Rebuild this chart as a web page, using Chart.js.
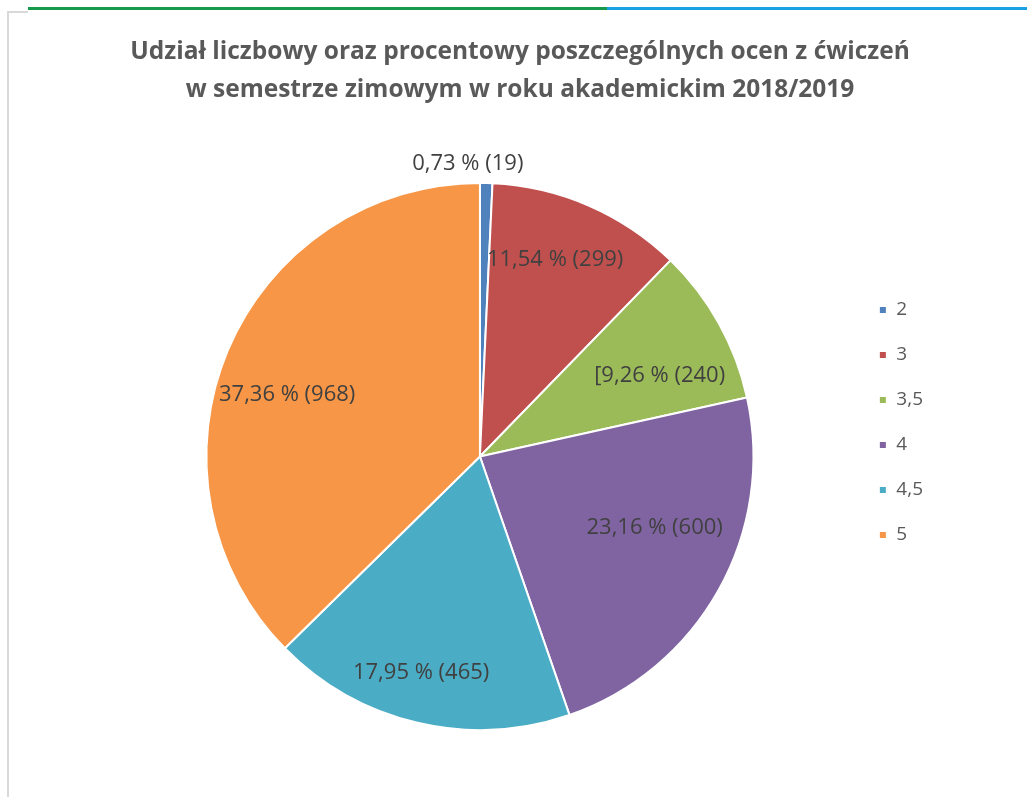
<!DOCTYPE html>
<html>
<head>
<meta charset="utf-8">
<script src="https://cdn.jsdelivr.net/npm/chart.js@4/dist/chart.umd.min.js"></script>
<style>
  body { margin: 0; background: #fff; overflow: hidden; width: 1027px; height: 797px; position: relative; }
  #edge-left { position: absolute; left: 7px; top: 11px; width: 2px; height: 790px; background: #d9d9d9; }
  #edge-top { position: absolute; left: 7px; top: 11px; width: 21px; height: 2px; background: #d9d9d9; }
  #tab-green { position: absolute; left: 28px; top: 7px; width: 579px; height: 3px; background: #17994b; }
  #tab-blue { position: absolute; left: 607px; top: 7px; width: 420px; height: 3px; background: #1aa1e1; }
  #wrap { position: absolute; left: 9px; top: 13px; width: 1018px; height: 784px; }
</style>
</head>
<body>
<div id="edge-left"></div>
<div id="edge-top"></div>
<div id="tab-green"></div>
<div id="tab-blue"></div>
<div id="wrap"><canvas id="pie"></canvas></div>
<script>
const grades = ['2', '3', '3,5', '4', '4,5', '5'];
const counts = [19, 299, 240, 600, 465, 968];
const labelPrefix = ['', '', '[', '', '', ''];
const sliceColors = ['#4f81bd', '#c0504d', '#9bbb59', '#8064a2', '#4bacc6', '#f79646'];

const FONT = '"Open Sans", sans-serif';

// where each value label sits: fraction of radius, and angle shift in degrees
const labelRadius = [1.07, 0.77, 0.72, 0.69, 0.82, 0.74];
const labelShift = [-3.7, -2.5, 5, -7, 2, -5];

const total = counts.reduce((a, b) => a + b, 0);

function pctText(v) {
  return (v / total * 100).toFixed(2).replace('.', ',');
}

const valueLabels = {
  id: 'valueLabels',
  afterDatasetsDraw(chart) {
    const ctx = chart.ctx;
    const meta = chart.getDatasetMeta(0);
    ctx.save();
    ctx.font = '22px ' + FONT;
    ctx.fillStyle = '#404040';
    ctx.textAlign = 'center';
    ctx.textBaseline = 'middle';
    meta.data.forEach((arc, i) => {
      const p = arc.getProps(['x', 'y', 'startAngle', 'endAngle', 'outerRadius'], true);
      const mid = (p.startAngle + p.endAngle) / 2 + labelShift[i] * Math.PI / 180;
      const r = p.outerRadius * labelRadius[i];
      const text = labelPrefix[i] + pctText(counts[i]) + ' % (' + counts[i] + ')';
      ctx.fillText(text, p.x + Math.cos(mid) * r, p.y + Math.sin(mid) * r);
    });
    ctx.restore();
  }
};

const ctx = document.getElementById('pie').getContext('2d');
const chart = new Chart(ctx, {
  type: 'pie',
  data: {
    labels: grades,
    datasets: [{
      data: counts,
      backgroundColor: sliceColors,
      borderColor: '#ffffff',
      borderWidth: 2
    }]
  },
  options: {
    responsive: true,
    maintainAspectRatio: false,
    animation: false,
    layout: {
      padding: { top: 0, bottom: 66, left: 98, right: 94 }
    },
    plugins: {
      title: {
        display: true,
        text: ['Udział liczbowy oraz procentowy poszczególnych ocen z ćwiczeń', 'w semestrze zimowym w roku akademickim 2018/2019'],
        color: '#595959',
        font: { family: FONT, size: 24.5, weight: 'bold', lineHeight: 1.55 },
        padding: { top: 20, bottom: 73 }
      },
      legend: {
        position: 'right',
        align: 'start',
        title: {
          display: true,
          text: ' ',
          font: { size: 10, lineHeight: 1 },
          padding: { top: 0, bottom: 251.5 }
        },
        labels: {
          boxWidth: 8,
          boxHeight: 8,
          padding: 26,
          color: '#595959',
          font: { family: FONT, size: 19 }
        }
      },
      tooltip: { enabled: false }
    }
  },
  plugins: [valueLabels]
});
</script>
</body>
</html>
